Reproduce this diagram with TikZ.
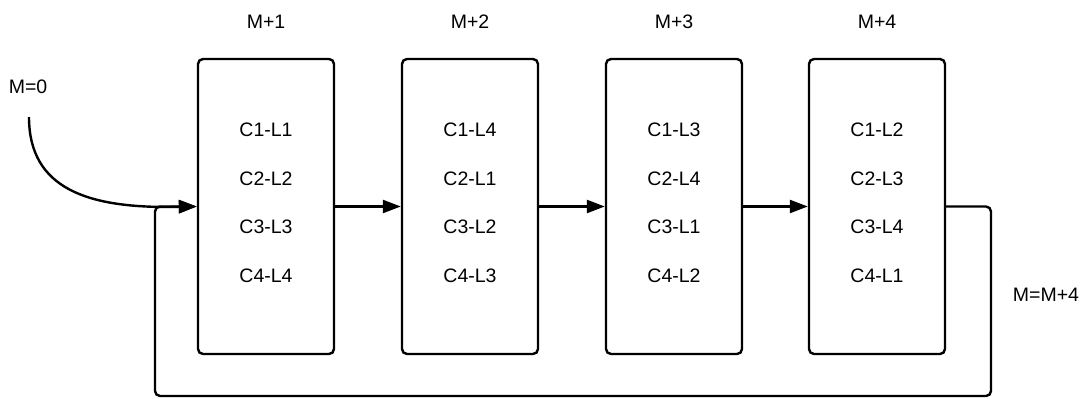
\documentclass[tikz,border=0pt]{standalone}
\usepackage{fontspec}
\setmainfont{Liberation Sans}
\usetikzlibrary{arrows.meta}
\begin{document}
\begin{tikzpicture}[x=1pt,y=-1pt,
  stage/.style={draw,line width=2.4pt,rounded corners=5pt,minimum width=136pt,minimum height=295pt,inner sep=0pt},
  lbl/.style={font=\fontsize{19.5}{22}\selectfont,inner sep=0pt},
  link/.style={line width=2.4pt,-{Triangle[length=18pt,width=13pt]}},
  loopline/.style={line width=2.4pt,rounded corners=5pt,-{Triangle[length=18pt,width=13pt]}}
]
\useasboundingbox (0,0) rectangle (1088,399);

% the four stages
\foreach \i/\x in {1/266,2/470,3/674,4/877}{
  \node[stage] (b\i) at (\x,206.5) {};
  \node[lbl] (t\i) at (\x,22) {M+\i};
}

% slot assignments in each stage
\foreach \i/\x/\a/\b/\c/\d in {1/266/1/2/3/4,2/470/4/1/2/3,3/674/3/4/1/2,4/877/2/3/4/1}{
  \node[lbl] (r\i a) at (\x,130) {C1-L\a};
  \node[lbl] (r\i b) at (\x,178.5) {C2-L\b};
  \node[lbl] (r\i c) at (\x,227) {C3-L\c};
  \node[lbl] (r\i d) at (\x,276) {C4-L\d};
}

% start and loop labels
\node[lbl] (m0) at (28,87) {M=0};
\node[lbl] (mloop) at (1046,295) {M=M+4};
\coordinate (m0s) at (29,117);

% entry curve
\draw[link] (m0s) .. controls (29,190) and (90,207) .. (168,207) -- (b1.west);

% forward links
\draw[link] (b1.east) -- (b2.west);
\draw[link] (b2.east) -- (b3.west);
\draw[link] (b3.east) -- (b4.west);

% feedback loop
\coordinate (c1) at (991,206.5);
\coordinate (c2) at (991,396);
\coordinate (c3) at (155,396);
\coordinate (c4) at (155,206.5);
\draw[loopline] (b4.east) -- (c1) -- (c2) -- (c3) -- (c4) -- (b1.west);
\end{tikzpicture}
\end{document}
